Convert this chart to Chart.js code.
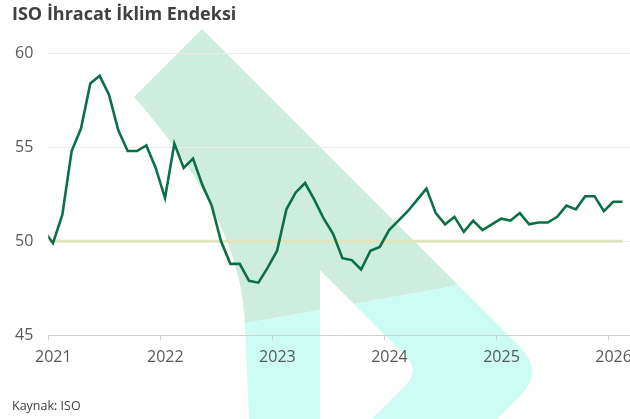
<!DOCTYPE html>
<html>
<head>
<meta charset="utf-8">
<script src="https://cdn.jsdelivr.net/npm/chart.js"></script>
<style>
    body { margin: 0; background: #ffffff; }
    #wrap { width: 630px; height: 419px; }
</style>
</head>
<body>
<div id="wrap"><canvas id="chart" width="630" height="419"></canvas></div>

<script>
    // aylik endeks degerleri (Aralik 2020 - Subat 2026)
    const aylar = [
        '2020-12',
        '2021-01', '2021-02', '2021-03', '2021-04', '2021-05', '2021-06',
        '2021-07', '2021-08', '2021-09', '2021-10', '2021-11', '2021-12',
        '2022-01', '2022-02', '2022-03', '2022-04', '2022-05', '2022-06',
        '2022-07', '2022-08', '2022-09', '2022-10', '2022-11', '2022-12',
        '2023-01', '2023-02', '2023-03', '2023-04', '2023-05', '2023-06',
        '2023-07', '2023-08', '2023-09', '2023-10', '2023-11', '2023-12',
        '2024-01', '2024-02', '2024-03', '2024-04', '2024-05', '2024-06',
        '2024-07', '2024-08', '2024-09', '2024-10', '2024-11', '2024-12',
        '2025-01', '2025-02', '2025-03', '2025-04', '2025-05', '2025-06',
        '2025-07', '2025-08', '2025-09', '2025-10', '2025-11', '2025-12',
        '2026-01', '2026-02'
    ];
    const endeks = [
        50.6,
        49.9, 51.4, 54.8, 56.0, 58.4, 58.8, 57.8, 55.9, 54.8, 54.8, 55.1, 53.9,
        52.3, 55.2, 53.9, 54.4, 53.0, 51.9, 50.0, 48.8, 48.8, 47.9, 47.8, 48.6,
        49.5, 51.7, 52.6, 53.1, 52.2, 51.2, 50.4, 49.1, 49.0, 48.5, 49.5, 49.7,
        50.6, 51.1, 51.6, 52.2, 52.8, 51.5, 50.9, 51.3, 50.5, 51.1, 50.6, 50.9,
        51.2, 51.1, 51.5, 50.9, 51.0, 51.0, 51.3, 51.9, 51.7, 52.4, 52.4, 51.6,
        52.1, 52.1
    ];
    const yillar = ['2021', '2022', '2023', '2024', '2025', '2026'];
    const esikDegeri = 50;
    const esikBaslangic = '2021-01';
    const esikBitis = '2026-02';

    // ay etiketini eksendeki konuma cevir (ay ortasi)
    const ayKonum = (ay) => {
        const [y, m] = ay.split('-').map(Number);
        return (y - 2021) * 12 + (m - 1) + 0.5;
    };
    const yilKonum = (yil) => (Number(yil) - 2021) * 12;

    const endeksNoktalari = aylar.map((ay, i) => ({ x: ayKonum(ay), y: endeks[i] }));
    const esikNoktalari = [
        { x: ayKonum(esikBaslangic), y: esikDegeri },
        { x: ayKonum(esikBitis), y: esikDegeri }
    ];

    // arka plandaki logo filigrani
    const filigran = {
        id: 'filigran',
        beforeDraw(chart) {
            const ctx = chart.ctx;
            ctx.save();
            // ust kisim (mint)
            ctx.fillStyle = '#ceedde';
            ctx.beginPath();
            ctx.moveTo(134, 97);
            ctx.lineTo(202, 29);
            ctx.lineTo(458.3, 285.3);
            ctx.lineTo(353.9, 303.9);
            ctx.lineTo(320, 270);
            ctx.lineTo(320, 309.9);
            ctx.lineTo(245, 323.3);
            ctx.bezierCurveTo(242, 240, 190, 160, 134, 97);
            ctx.closePath();
            ctx.fill();
            // alt kisim (turkuaz)
            ctx.fillStyle = '#ccfcf3';
            ctx.beginPath();
            ctx.moveTo(245, 323.3);
            ctx.lineTo(320, 309.9);
            ctx.lineTo(320, 419);
            ctx.lineTo(249, 419);
            ctx.closePath();
            ctx.fill();
            ctx.beginPath();
            ctx.moveTo(353.9, 303.9);
            ctx.lineTo(458.3, 285.3);
            ctx.lineTo(520, 347);
            ctx.quadraticCurveTo(544.5, 371.5, 520, 396);
            ctx.lineTo(497, 419);
            ctx.lineTo(372, 419);
            ctx.lineTo(405, 386);
            ctx.quadraticCurveTo(420.5, 370.5, 405, 355);
            ctx.closePath();
            ctx.fill();
            ctx.restore();
        }
    };

    const chart = new Chart(document.getElementById('chart'), {
        type: 'line',
        data: {
            datasets: [
                {
                    label: 'ISO İhracat İklim Endeksi',
                    data: endeksNoktalari,
                    borderColor: '#0b7047',
                    borderWidth: 2.6,
                    pointRadius: 0,
                    tension: 0,
                    clip: { left: 0, top: 5, right: 5, bottom: 5 }
                },
                {
                    label: 'Eşik',
                    data: esikNoktalari,
                    borderColor: '#dfe5bf',
                    borderWidth: 3,
                    pointRadius: 0
                }
            ]
        },
        options: {
            responsive: false,
            animation: false,
            events: [],
            layout: { padding: { left: 12, right: 0, top: 0, bottom: 0 } },
            plugins: {
                legend: { display: false },
                tooltip: { enabled: false },
                title: {
                    display: true,
                    text: 'ISO İhracat İklim Endeksi',
                    align: 'start',
                    color: '#404040',
                    font: { family: 'Open Sans', size: 18, weight: 'bold' },
                    padding: { top: 4, bottom: 27.7 }
                },
                subtitle: {
                    display: true,
                    position: 'bottom',
                    text: 'Kaynak: ISO',
                    align: 'start',
                    color: '#404040',
                    font: { family: 'Open Sans', size: 12.5 },
                    padding: { top: 23.5, bottom: 5 }
                }
            },
            scales: {
                x: {
                    type: 'linear',
                    min: 0,
                    max: 62.3,
                    afterBuildTicks: (scale) => {
                        scale.ticks = yillar.map((y) => ({ value: yilKonum(y) }));
                    },
                    afterFit: (scale) => {
                        scale.paddingLeft = 0;
                        scale.paddingRight = 0;
                    },
                    ticks: {
                        callback: (v) => yillar[v / 12],
                        labelOffset: 5,
                        padding: 8,
                        maxRotation: 0,
                        autoSkip: false,
                        color: '#595959',
                        font: { family: 'Open Sans', size: 16 }
                    },
                    grid: {
                        drawOnChartArea: false,
                        drawTicks: true,
                        tickLength: 5,
                        color: '#d0d0d0'
                    },
                    border: { display: true, color: '#d0d0d0' }
                },
                y: {
                    min: 45,
                    max: 60,
                    afterFit: (scale) => { scale.width = 36.3; },
                    ticks: {
                        stepSize: 5,
                        padding: 15,
                        color: '#595959',
                        font: { family: 'Open Sans', size: 16 }
                    },
                    grid: {
                        drawTicks: false,
                        color: (ctx) => ctx.tick.value === 45 ? 'rgba(0,0,0,0)' : '#ebebeb'
                    },
                    border: { display: false }
                }
            }
        },
        plugins: [filigran]
    });
</script>
</body>
</html>
